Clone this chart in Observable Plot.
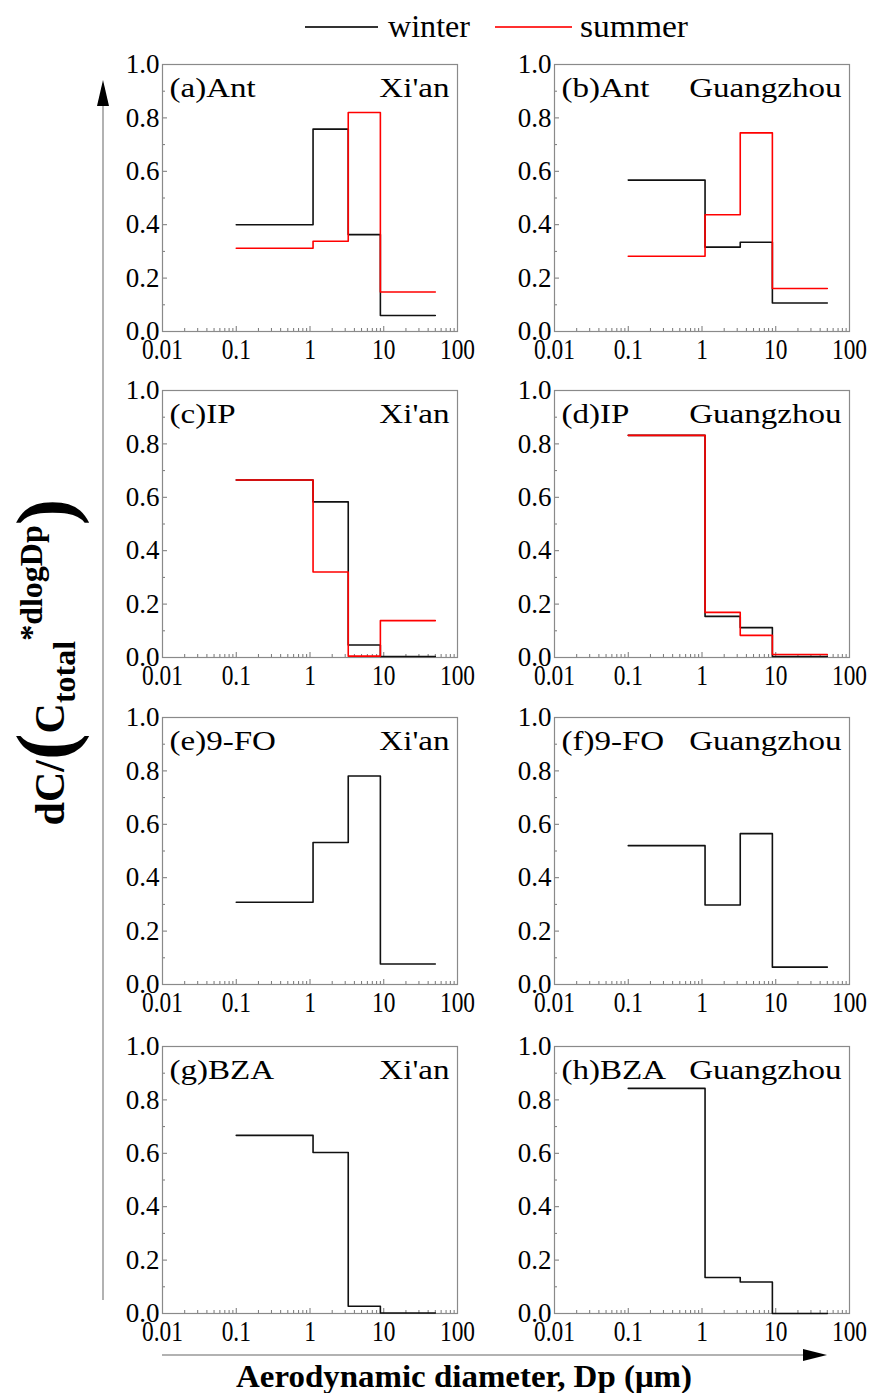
<!DOCTYPE html>
<html>
<head>
<meta charset="utf-8">
<script src="https://cdn.jsdelivr.net/npm/d3@7"></script>
<script src="https://cdn.jsdelivr.net/npm/@observablehq/plot@0.6"></script>
<style>
  html, body { margin: 0; padding: 0; background: #fff; }
  #fig { position: relative; width: 871px; height: 1393px; overflow: hidden; background: #fff;
         font-family: "Liberation Serif", "Times New Roman", serif; }
  #fig .panel { position: absolute; }
  #fig svg.overlay { position: absolute; left: 0; top: 0; }
</style>
</head>
<body>
<div id="fig"></div>
<script>
// ---------------- data ----------------
// impactor size-bin edges (µm)
const binEdges = [0.1, 1.1, 3.3, 9, 50];
const seasons = ["winter", "summer"];
const panelTags = ["(a)", "(b)", "(c)", "(d)", "(e)", "(f)", "(g)", "(h)"];
const compounds = ["Ant", "Ant", "IP", "IP", "9-FO", "9-FO", "BZA", "BZA"];
const cities = ["Xi'an", "Guangzhou", "Xi'an", "Guangzhou", "Xi'an", "Guangzhou", "Xi'an", "Guangzhou"];

// dC/(Ctotal*dlogDp) for bins <1.1, 1.1-3.3, 3.3-9.0, >9.0
const winterAntXian = [0.400, 0.758, 0.363, 0.060];
const summerAntXian = [0.312, 0.338, 0.820, 0.148];
const winterAntGZ   = [0.567, 0.316, 0.334, 0.107];
const summerAntGZ   = [0.282, 0.437, 0.744, 0.161];
const winterIPXian  = [0.665, 0.583, 0.047, 0.004];
const summerIPXian  = [0.665, 0.320, 0.005, 0.138];
const winterIPGZ    = [0.832, 0.154, 0.112, 0.004];
const summerIPGZ    = [0.832, 0.169, 0.083, 0.011];
const winter9FOXian = [0.308, 0.532, 0.781, 0.077];
const winter9FOGZ   = [0.520, 0.298, 0.565, 0.065];
const winterBZAXian = [0.667, 0.603, 0.027, 0.002];
const winterBZAGZ   = [0.843, 0.135, 0.118, 0.000];

const panelWinter = [winterAntXian, winterAntGZ, winterIPXian, winterIPGZ, winter9FOXian, winter9FOGZ, winterBZAXian, winterBZAGZ];
const panelSummer = [summerAntXian, summerAntGZ, summerIPXian, summerIPGZ, null, null, null, null];

const xTicks = [0.01, 0.1, 1, 10, 100];
const xMinor = [2,3,4,5,6,7,8,9].flatMap(m => [0.01, 0.1, 1, 10].map(d => m * d));
const yTicks = [0, 0.2, 0.4, 0.6, 0.8, 1.0];
const yMinor = [0.1, 0.3, 0.5, 0.7, 0.9];

// ---------------- layout ----------------
const colLeft = [162, 554];
const rowTop = [64, 390, 717, 1046];
const FW = 295, FH = 267;
const mL = 60, mR = 15, mT = 15, mB = 40;

const fig = document.getElementById("fig");

function scaleText(t, sx) {
  let tr = t.getAttribute("transform");
  if (!tr) {
    const x = t.getAttribute("x") || 0, y = t.getAttribute("y") || 0;
    t.removeAttribute("x"); t.removeAttribute("y");
    tr = `translate(${x},${y})`;
  }
  t.setAttribute("transform", tr + ` scale(${sx},1)`);
}

function stepRows(values, season) {
  if (!values) return [];
  const rows = values.map((v, j) => ({x: binEdges[j], y: v, season}));
  rows.push({x: binEdges[binEdges.length - 1], y: values[values.length - 1], season});
  return rows;
}

for (let i = 0; i < 8; i++) {
  const col = i % 2, row = Math.floor(i / 2);
  const rows = [...stepRows(panelWinter[i], "winter"), ...stepRows(panelSummer[i], "summer")];
  const tag = panelTags[i] + compounds[i];
  const svg = Plot.plot({
    width: mL + FW + mR,
    height: mT + FH + mB,
    marginLeft: mL, marginRight: mR, marginTop: mT, marginBottom: mB,
    x: {type: "log", domain: [0.01, 100]},
    y: {domain: [0, 1]},
    color: {domain: seasons, range: ["#111111", "#ff0000"]},
    style: {fontFamily: "'Liberation Serif', 'Times New Roman', serif", fontSize: "27px", color: "#000", background: "transparent", overflow: "visible"},
    marks: [
      Plot.ruleX(xMinor, {insetTop: FH - 3, stroke: "#777"}),
      Plot.ruleX(xTicks, {insetTop: FH - 5, stroke: "#777"}),
      Plot.ruleY(yMinor, {insetRight: FW - 3, stroke: "#777"}),
      Plot.ruleY(yTicks, {insetRight: FW - 5, stroke: "#777"}),
      Plot.frame({stroke: "#8a8a8a", strokeWidth: 1.2}),
      Plot.axisX({ticks: xTicks, tickFormat: d => String(d), tickSize: 0, tickPadding: 6, fontSize: 30, label: null}),
      Plot.axisY({ticks: yTicks, tickFormat: d3.format(".1f"), tickSize: 0, tickPadding: 3, label: null}),
      Plot.line(rows, {x: "x", y: "y", z: "season", stroke: "season", curve: "step-after", strokeWidth: 1.6}),
      Plot.text([tag], {text: d => d, frameAnchor: "top-left", lineAnchor: "top", dx: 7, dy: 13, fontSize: 28, fill: "#000"}),
      Plot.text([cities[i]], {text: d => d, frameAnchor: "top-right", textAnchor: "end", lineAnchor: "top", dx: -8, dy: 13, fontSize: 28, fill: "#000"})
    ]
  });
  svg.classList.add("panel");
  svg.style.left = (colLeft[col] - mL) + "px";
  svg.style.top = (rowTop[row] - mT) + "px";
  fig.appendChild(svg);
  svg.querySelectorAll('g[aria-label="x-axis tick label"] text').forEach(t => scaleText(t, 0.78));
  svg.querySelectorAll("text").forEach(t => {
    const s = t.textContent;
    if (s === tag || s === cities[i]) scaleText(t, 1.18);
  });
}

// ---------------- overlay: legend, axis titles, arrows ----------------
const NS = "http://www.w3.org/2000/svg";
const ov = document.createElementNS(NS, "svg");
ov.setAttribute("class", "overlay");
ov.setAttribute("width", 871);
ov.setAttribute("height", 1393);
ov.innerHTML = `
  <g font-family="'Liberation Serif','Times New Roman',serif" fill="#000">
    <line x1="305" y1="27" x2="378" y2="27" stroke="#333" stroke-width="2"/>
    <text x="388" y="37" font-size="31" textLength="82" lengthAdjust="spacingAndGlyphs">${seasons[0]}</text>
    <line x1="495" y1="27" x2="572" y2="27" stroke="#ff3030" stroke-width="2"/>
    <text x="580" y="37" font-size="31" textLength="108" lengthAdjust="spacingAndGlyphs">${seasons[1]}</text>

    <line x1="103" y1="1300" x2="103" y2="100" stroke="#999" stroke-width="1.5"/>
    <polygon points="103,80 97,106 109,106" fill="#000"/>
    <line x1="162" y1="1355" x2="806" y2="1355" stroke="#999" stroke-width="1.5"/>
    <polygon points="827,1355 803,1349 803,1361" fill="#000"/>

    <text x="236" y="1387" font-size="32" font-weight="bold" textLength="456" lengthAdjust="spacingAndGlyphs">Aerodynamic diameter, Dp (μm)</text>

    <text transform="translate(64,662) rotate(-90)" text-anchor="middle" font-weight="bold" font-size="42">dC/<tspan font-size="80" dy="8">(</tspan><tspan dy="-8">C</tspan><tspan font-size="32" dy="11">total</tspan><tspan font-size="32" dy="-33">*dlogDp</tspan><tspan font-size="80" dy="30">)</tspan></text>
  </g>`;
fig.appendChild(ov);
</script>
</body>
</html>
